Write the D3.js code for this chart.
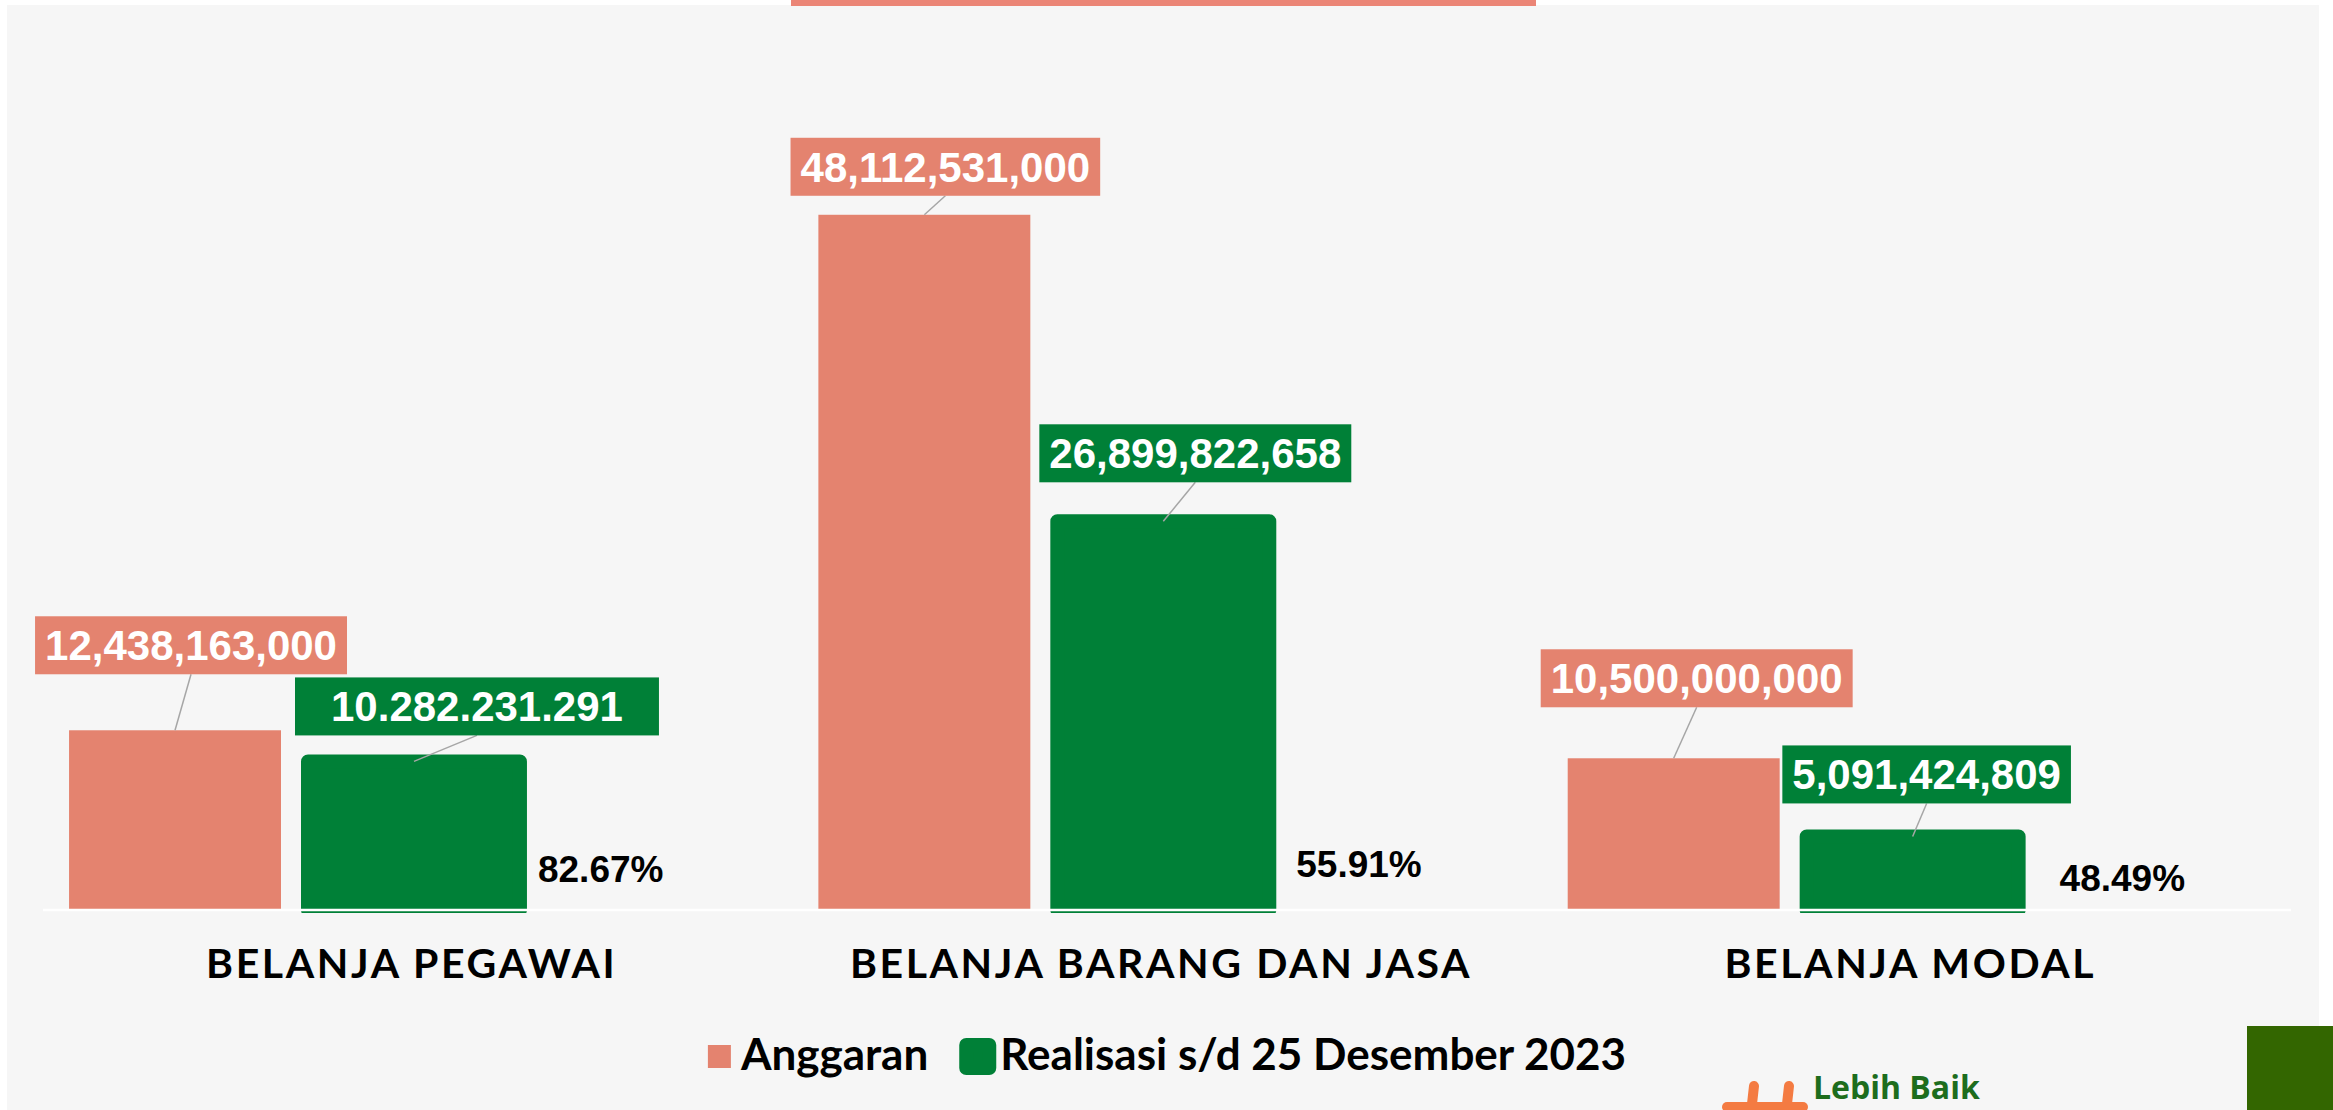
<!DOCTYPE html>
<html>
<head>
<meta charset="utf-8">
<script src="https://cdn.jsdelivr.net/npm/d3@7"></script>
<style>
  body { margin: 0; background: #ffffff; }
  svg { display: block; }
</style>
</head>
<body>
<div id="chart"></div>
<script>
// Chart data
const categories = ['BELANJA PEGAWAI', 'BELANJA BARANG DAN JASA', 'BELANJA MODAL'];
const seriesNames = ['Anggaran', 'Realisasi s/d 25 Desember 2023'];
const anggaran = [12438163000, 48112531000, 10500000000];
const realisasi = [10282231291, 26899822658, 5091424809];
const realisasiLabels = ['10.282.231.291', '26,899,822,658', '5,091,424,809'];

// Label nudges (labels were moved by hand in the original)
const anggaranNudge = [{dx: 16, gap: 56, pad: 10}, {dx: 21, gap: 19, pad: 10}, {dx: 23, gap: 51, pad: 10}];
const realisasiNudge = [{dx: 63, gap: 26, pad: 36}, {dx: 32, gap: 39, pad: 10}, {dx: 14, gap: 33, pad: 10}];
const pctNudge = [{dx: 11, dy: 28}, {dx: 20, dy: 33}, {dx: 34, dy: 19}];

const colors = {anggaran: '#e4836f', realisasi: '#008037', panel: '#f6f6f6'};
const W = 2333, H = 1110;
const baseY = 910;

const rows = categories.map((c, i) => ({
  cat: c, i,
  anggaran: anggaran[i],
  realisasi: realisasi[i],
  label: realisasiLabels[i],
  pct: realisasi[i] / anggaran[i]
}));

const svg = d3.select('#chart').append('svg')
    .attr('width', W)
    .attr('height', H);

// background panel and top strip
svg.append('rect')
    .attr('x', 7).attr('y', 5)
    .attr('width', 2312).attr('height', H)
    .attr('fill', colors.panel);
svg.append('rect')
    .attr('x', 791).attr('y', 0)
    .attr('width', 745).attr('height', 6)
    .attr('fill', '#eb8576');

// scales
const x0 = d3.scaleBand()
    .domain(categories)
    .range([43, 2291]);
const x1 = d3.scaleBand()
    .domain(seriesNames)
    .range([0, 503])
    .paddingInner(0.113)
    .paddingOuter(0.109);
const y = d3.scaleLinear()
    .domain([0, 50e9])
    .range([baseY, 187.5]);

const bw = x1.bandwidth();

svg.append('clipPath').attr('id', 'plot-clip')
  .append('rect')
    .attr('x', 0).attr('y', 0)
    .attr('width', W).attr('height', baseY + 3);

const barsG = svg.append('g').attr('clip-path', 'url(#plot-clip)');

// Anggaran bars
barsG.selectAll('rect.anggaran')
  .data(rows)
  .join('rect')
    .attr('class', 'anggaran')
    .attr('x', d => x0(d.cat) + x1(seriesNames[0]))
    .attr('y', d => y(d.anggaran))
    .attr('width', bw)
    .attr('height', d => y(0) - y(d.anggaran))
    .attr('fill', colors.anggaran);

// Realisasi bars (thick rounded outline like the original)
barsG.selectAll('rect.realisasi')
  .data(rows)
  .join('rect')
    .attr('class', 'realisasi')
    .attr('x', d => x0(d.cat) + x1(seriesNames[1]))
    .attr('y', d => y(d.realisasi))
    .attr('width', bw)
    .attr('height', d => y(0) - y(d.realisasi))
    .attr('fill', colors.realisasi)
    .attr('stroke', colors.realisasi)
    .attr('stroke-width', 14)
    .attr('stroke-linejoin', 'round');

// baseline
svg.append('line')
    .attr('x1', 43).attr('x2', 2291)
    .attr('y1', y(0)).attr('y2', y(0))
    .attr('stroke', '#ffffff')
    .attr('stroke-width', 2.5);

// value labels with leader lines
const labelFont = '"Liberation Sans", Arial, sans-serif';
const labelSpecs = [];
rows.forEach(d => {
  labelSpecs.push({
    cx: x0(d.cat) + x1(seriesNames[0]) + bw / 2,
    top: y(d.anggaran),
    text: d3.format(',')(d.anggaran),
    fill: colors.anggaran,
    nudge: anggaranNudge[d.i]
  });
  labelSpecs.push({
    cx: x0(d.cat) + x1(seriesNames[1]) + bw / 2,
    top: y(d.realisasi),
    text: d.label,
    fill: colors.realisasi,
    nudge: realisasiNudge[d.i]
  });
});

const boxH = 58;
const labelG = svg.append('g');
labelSpecs.forEach(s => {
  const bx = s.cx + s.nudge.dx;
  const bBottom = s.top - s.nudge.gap;
  const g = labelG.append('g');
  g.append('line')
      .attr('x1', bx).attr('y1', bBottom)
      .attr('x2', s.cx).attr('y2', s.top)
      .attr('stroke', '#a6a6a6')
      .attr('stroke-width', 1.5);
  const box = g.append('rect');
  const t = g.append('text')
      .attr('x', bx)
      .attr('y', bBottom - boxH + 44)
      .attr('text-anchor', 'middle')
      .attr('font-family', labelFont)
      .attr('font-weight', 'bold')
      .attr('font-size', 42)
      .attr('fill', '#ffffff')
      .text(s.text);
  const tw = t.node().getComputedTextLength() + 2 * s.nudge.pad;
  box.attr('x', bx - tw / 2)
      .attr('y', bBottom - boxH)
      .attr('width', tw)
      .attr('height', boxH)
      .attr('fill', s.fill);
});

// percentage labels
svg.append('g').selectAll('text')
  .data(rows)
  .join('text')
    .attr('x', d => x0(d.cat) + x1(seriesNames[1]) + bw + 7 + pctNudge[d.i].dx)
    .attr('y', d => y(0) - pctNudge[d.i].dy)
    .attr('font-family', labelFont)
    .attr('font-weight', 'bold')
    .attr('font-size', 37)
    .attr('fill', '#000000')
    .text(d => d3.format('.2%')(d.pct));

// category axis labels
const catFont = 'Lato, "Open Sans", sans-serif';
svg.append('g').selectAll('text')
  .data(categories)
  .join('text')
    .attr('x', d => x0(d) + x0.bandwidth() / 2 - 6)
    .attr('y', 978)
    .attr('text-anchor', 'middle')
    .attr('font-family', catFont)
    .attr('font-weight', 'bold')
    .attr('font-size', 41)
    .attr('letter-spacing', 2.6)
    .attr('fill', '#000000')
    .text(d => d);

// legend
const legend = svg.append('g');
let lx = 0;
seriesNames.forEach((name, i) => {
  const item = legend.append('g').attr('transform', `translate(${lx},0)`);
  const m = item.append('rect')
      .attr('x', 0).attr('y', -25)
      .attr('width', 23).attr('height', 23)
      .attr('fill', i === 0 ? colors.anggaran : colors.realisasi);
  if (i === 1) {
    m.attr('x', 7)
      .attr('stroke', colors.realisasi)
      .attr('stroke-width', 14)
      .attr('stroke-linejoin', 'round');
  }
  const off = i === 0 ? 33 : 41;
  const t = item.append('text')
      .attr('x', off)
      .attr('y', 0)
      .attr('font-family', catFont)
      .attr('font-weight', 'bold')
      .attr('font-size', 44)
      .attr('fill', '#000000')
      .text(name);
  lx += off + t.node().getComputedTextLength() + 31;
});
const legendW = lx - 31;
legend.attr('transform', `translate(${1167 - legendW / 2}, 1070)`);

// bottom decorations: logo and corner block
const logo = svg.append('g');
logo.selectAll('line')
  .data([[1754, 1086, 1748, 1140], [1789, 1086, 1783, 1140], [1727, 1107, 1803, 1107]])
  .join('line')
    .attr('x1', d => d[0]).attr('y1', d => d[1])
    .attr('x2', d => d[2]).attr('y2', d => d[3])
    .attr('stroke', '#f47b42')
    .attr('stroke-width', 10)
    .attr('stroke-linecap', 'round');
logo.append('text')
    .attr('x', 1813)
    .attr('y', 1099)
    .attr('font-family', '"Open Sans", sans-serif')
    .attr('font-weight', 'bold')
    .attr('font-size', 32)
    .attr('fill', '#1d6d1d')
    .text('Lebih Baik');
svg.append('rect')
    .attr('x', 2247).attr('y', 1026)
    .attr('width', 86).attr('height', 84)
    .attr('fill', '#336600');
</script>
</body>
</html>
